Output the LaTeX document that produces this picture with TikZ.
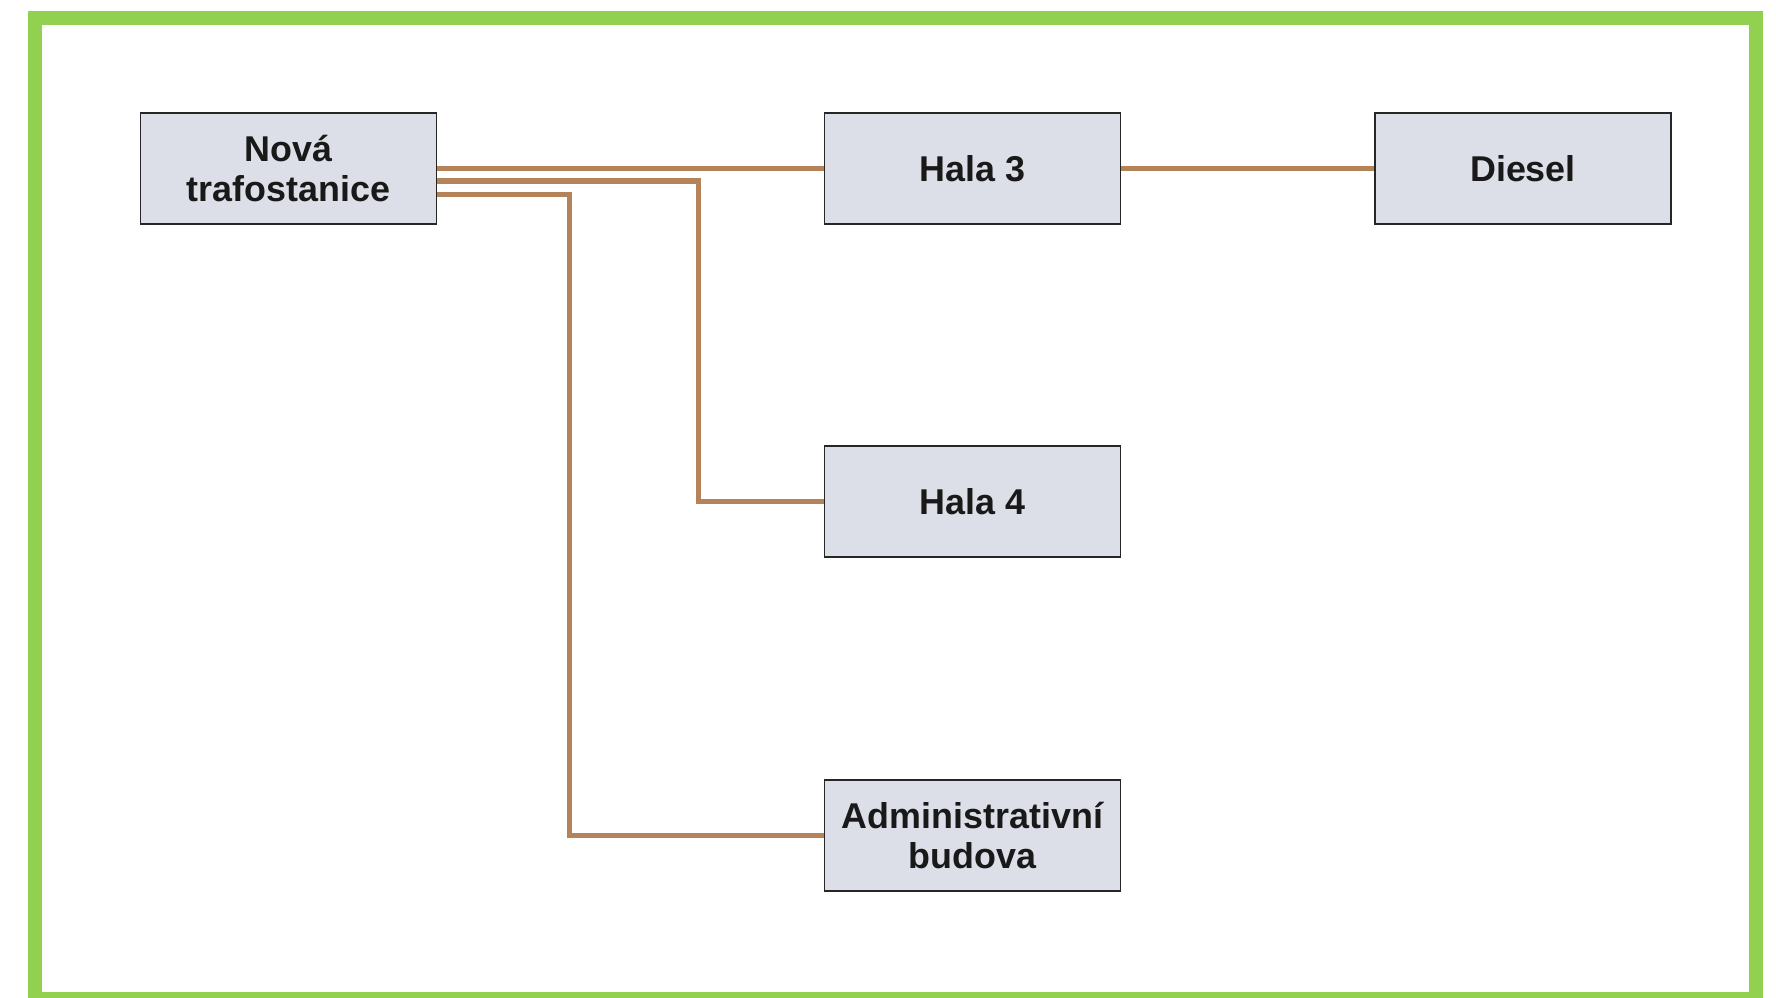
\documentclass[tikz,border=0pt]{standalone}
\usepackage{fontspec}
\setmainfont{Liberation Sans}
\usepackage{xcolor}
\usepackage{tikz}
\usetikzlibrary{positioning}
\usetikzlibrary{calc}
\definecolor{framegreen}{HTML}{92D050}
\definecolor{cablebrown}{HTML}{B5835A}
\definecolor{boxgray}{HTML}{DCDFE7}
\tikzset{
	building/.style={draw=black!85, fill=boxgray, line width=0.35pt,
		minimum width=2.96cm, minimum height=1.11cm, inner sep=0pt,
		align=center, text=black!90,
		font=\fontsize{10.2}{11.6}\selectfont\bfseries},
	cable/.style={draw=cablebrown, line width=1.45pt}
}

\begin{document}
\begin{tikzpicture}[x=0.01cm, y=-0.01cm]
		\useasboundingbox (0,0) rectangle (1776,997);
		\clip (0,0) rectangle (1776,997);
		% Frame
		\draw[framegreen, line width=0.14cm] (35,18) rectangle (1755.5,999);
		% Buildings
		\node[building] (nova) at (288.5,168.5) {Nová\\trafostanice};
		\node[building] (hala3) at (972.5,168.5) {Hala 3};
		\node[building] (diesel) at (1523,168.5) {Diesel};
		\node[building] (hala4) at (972.5,501.5) {Hala 4};
		\node[building] (admin) at (972.5,835.5) {Administrativní\\budova};
		% Cables
		\draw[cable] (nova.east) -- (hala3.west);
		\draw[cable] (hala3.east) -- (diesel.west);
		\draw[cable] ([yshift=-0.125cm]nova.east) -| ([xshift=-1.25cm]hala4.west) -- (hala4.west);
		\draw[cable] ([yshift=-0.26cm]nova.east) -| ([xshift=-2.54cm]admin.west) -- (admin.west);
	\end{tikzpicture}
\end{document}
